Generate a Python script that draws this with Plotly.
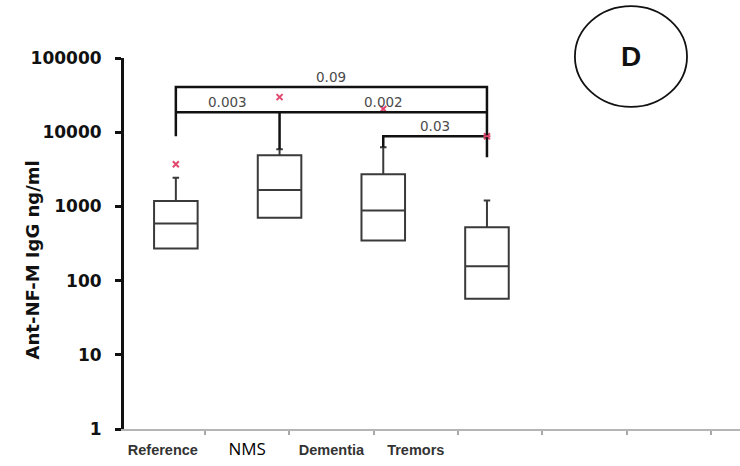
import numpy as np
import plotly.graph_objects as go

# Anti-NF-M IgG levels (ng/ml) per group: box statistics
groups = ["Reference", "NMS", "Dementia", "Tremors"]
q1 = [271, 703, 347, 57]
median = [589, 1660, 883, 156]
q3 = [1180, 4890, 2710, 525]
upper_whisker = [2440, 5900, 6270, 1205]
outliers = [3700, 29700, 20500, 8830]

# pairwise comparison brackets: (left group, right group, bracket level, p-value)
bracket_pairs = [("Reference", "Tremors", 40600, "0.09"),
                 ("Reference", "NMS", 18600, "0.003"),
                 ("NMS", "Tremors", 18600, "0.002"),
                 ("Dementia", "Tremors", 8830, "0.03")]

# axis labels
x_labels = ["Reference", "NMS", "Dementia", "Tremors"]
y_ticks = [1, 10, 100, 1000, 10000, 100000]

pos = {g: i + 1 for i, g in enumerate(groups)}
FONT = "Liberation Sans, Arial, sans-serif"
WIDE = "DejaVu Sans, Verdana, sans-serif"

fig = go.Figure()

for i, g in enumerate(groups):
    fig.add_trace(go.Box(
        x=[pos[g]], q1=[q1[i]], median=[median[i]], q3=[q3[i]],
        lowerfence=[q1[i]], upperfence=[upper_whisker[i]],
        width=0.42, whiskerwidth=0.15, boxpoints=False,
        line=dict(color="#3a3a3a", width=2), fillcolor="rgba(255,255,255,0)",
        showlegend=False, hoverinfo="skip"))

# outliers
fig.add_trace(go.Scatter(
    x=[pos[g] for g in groups], y=outliers, mode="markers",
    marker=dict(symbol="x-thin", size=6, line=dict(color="#e0486e", width=2)),
    showlegend=False, hoverinfo="skip"))

# bracket lines
line_style = dict(color="#111111", width=2.5)
top = bracket_pairs[0]
mid_level = bracket_pairs[1][2]
low = bracket_pairs[3]
# outer bracket (0.09): left leg reaches the low level, right leg drops below the 0.03 bracket
fig.add_trace(go.Scatter(
    x=[pos[top[0]], pos[top[0]], pos[top[1]], pos[top[1]]],
    y=[low[2], top[2], top[2], upper_whisker[3] * 3.8],
    mode="lines", line=line_style, showlegend=False, hoverinfo="skip"))
# shared middle line (0.003 / 0.002)
fig.add_trace(go.Scatter(
    x=[pos["Reference"], pos["Tremors"]], y=[mid_level, mid_level],
    mode="lines", line=line_style, showlegend=False, hoverinfo="skip"))
# NMS leg
fig.add_trace(go.Scatter(
    x=[pos["NMS"], pos["NMS"]], y=[mid_level, upper_whisker[1]],
    mode="lines", line=line_style, showlegend=False, hoverinfo="skip"))
# 0.03 bracket
fig.add_trace(go.Scatter(
    x=[pos[low[0]], pos[low[0]], pos[low[1]]],
    y=[upper_whisker[2], low[2], low[2]],
    mode="lines", line=line_style, showlegend=False, hoverinfo="skip"))

# Tremors outlier mark sits on the bracket; redraw it on top
fig.add_trace(go.Scatter(
    x=[pos["Tremors"]], y=[outliers[3]], mode="markers",
    marker=dict(symbol="line-ew", size=5, line=dict(color="#e0486e", width=2)),
    showlegend=False, hoverinfo="skip"))

# p-value labels
for left, right, level, p in bracket_pairs:
    fig.add_annotation(
        x=(pos[left] + pos[right]) / 2, y=np.log10(level), xref="x", yref="y",
        text=p, showarrow=False, yanchor="bottom", yshift=0,
        font=dict(family=WIDE, size=13.5, color="#4a4a4a"))

# invisible anchor trace for the label axis
fig.add_trace(go.Scatter(
    x=list(range(len(x_labels))), y=[1] * len(x_labels), xaxis="x2",
    mode="markers", marker=dict(opacity=0), showlegend=False, hoverinfo="skip"))

ticktext = []
for lab in x_labels:
    if lab == "NMS":
        ticktext.append("<span style='font-family:Open Sans;font-size:17px;color:#000'>NMS</span>")
    else:
        ticktext.append("<b>" + lab + "</b>")

fig.update_layout(
    width=740, height=466,
    margin=dict(l=124, r=0, t=58, b=37),
    paper_bgcolor="white", plot_bgcolor="white",
    xaxis=dict(range=[0.5, 6.44], visible=False, showgrid=False, zeroline=False),
    xaxis2=dict(
        overlaying="x", anchor="y", side="bottom",
        range=[-0.461, 6.846], tickmode="array",
        tickvals=list(range(len(x_labels))), ticktext=ticktext,
        ticks="outside", ticklen=0, showgrid=False, zeroline=False,
        showline=True, linecolor="#b5b5b5", linewidth=1.5,
        tickfont=dict(family=FONT, size=14.5, color="#333333"),
        ticklabelstandoff=7,
        minor=dict(tickmode="array", tickvals=[k + 0.5 for k in range(7)],
                   ticks="outside", ticklen=4, tickwidth=1.5, tickcolor="#a8a8a8"),
    ),
    yaxis=dict(
        type="log", range=[0, 5], tickmode="array",
        tickvals=y_ticks, ticktext=[str(v) for v in y_ticks],
        ticks="outside", ticklen=6, tickwidth=2.5, tickcolor="#111111",
        showline=True, linecolor="#111111", linewidth=3,
        showgrid=False, zeroline=False,
        tickfont=dict(family=WIDE, size=17, color="#111111", weight="bold"),
        ticklabelstandoff=10,
    ),
    showlegend=False,
)

# y-axis title
fig.add_annotation(
    x=-0.149, y=0.455, xref="paper", yref="paper", textangle=-90,
    xanchor="center", yanchor="middle",
    text="<b>Ant-NF-M IgG ng/ml</b>", showarrow=False,
    font=dict(family=WIDE, size=18, color="#111111"))

# panel letter
fig.add_shape(type="circle", xref="paper", yref="paper",
              x0=0.732, x1=0.914, y0=0.868, y1=1.14,
              line=dict(color="#111111", width=1.8))
fig.add_annotation(
    x=0.823, y=1.003, xref="paper", yref="paper", text="<b>D</b>",
    xanchor="center", yanchor="middle",
    showarrow=False, font=dict(family=FONT, size=28, color="#111111"))

fig.write_html("out.html")
